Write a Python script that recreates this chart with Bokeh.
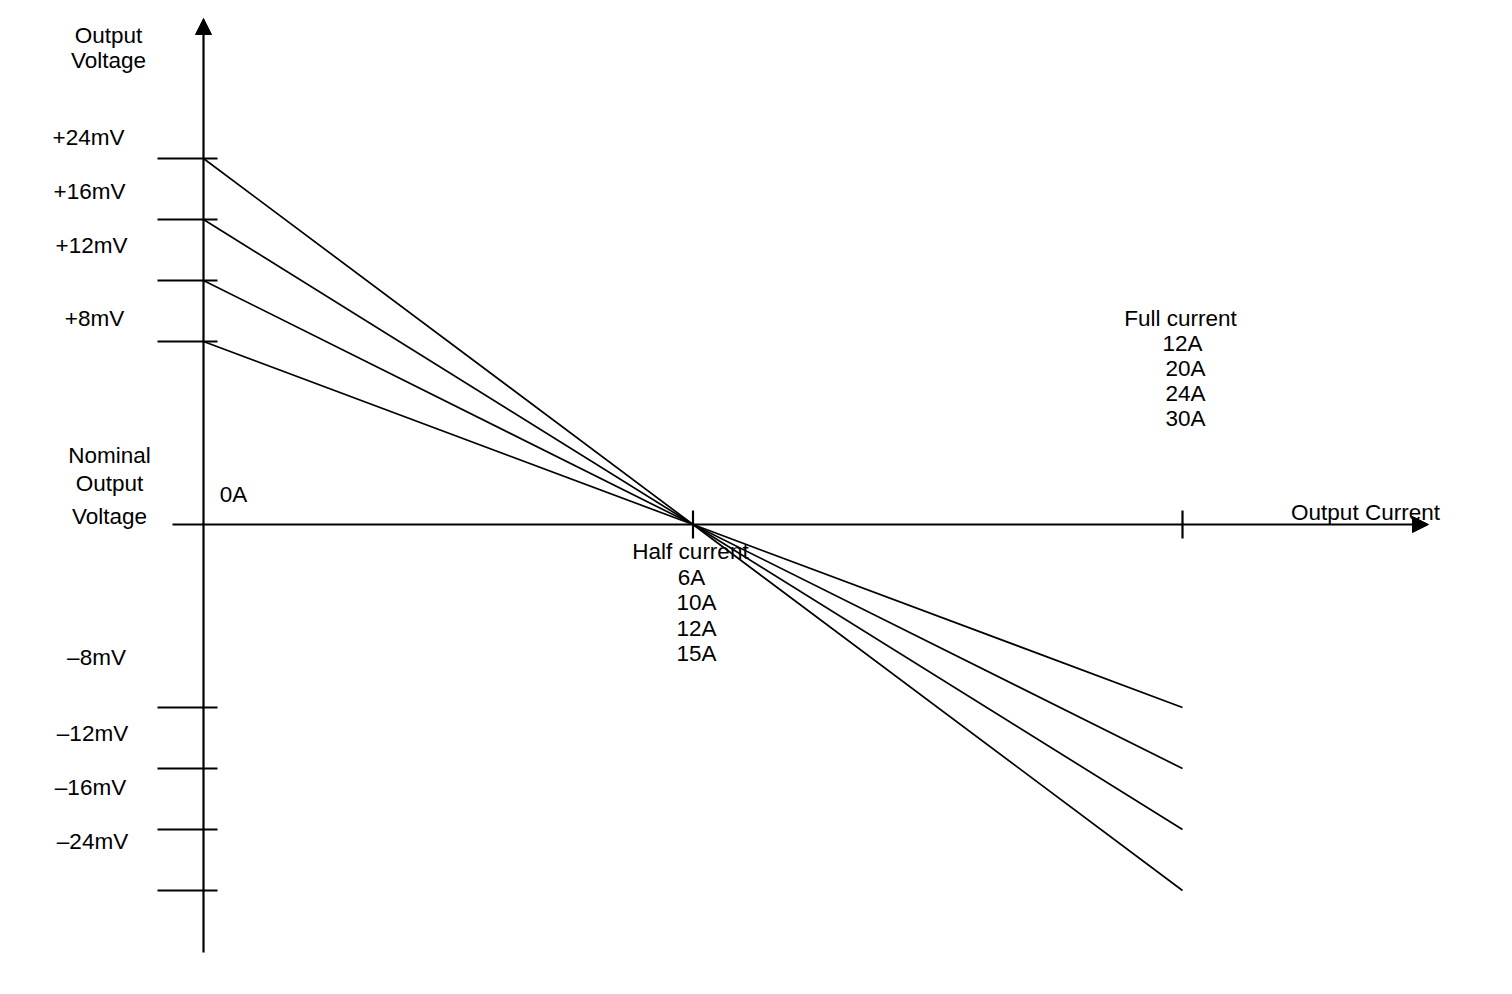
from bokeh.plotting import figure
from bokeh.models import Arrow, NormalHead, Range1d
from bokeh.core.properties import value
from bokeh.embed import file_html
from bokeh.resources import INLINE

# ---- data ----
voltages = [24, 16, 12, 8]            # mV deviation at 0A (+) and full current (-)
tick_levels = [6, 5, 4, 3]            # schematic level of each voltage tick
half_currents = [6, 10, 12, 15]       # A
full_currents = [12, 20, 24, 30]      # A
current_fraction = [0.0, 0.5, 1.0]    # 0A, half current, full current

# ---- layout ----
W, H = 1500, 980
M = 0                  # observed page offset of the figure
OX, OY = 203, 524      # screen px of the origin
SX, SY = 979, 61       # px per unit
x_start = (M - OX) / SX
x_end = (M + W - OX) / SX
y_end = (OY - M) / SY
y_start = (OY - M - H) / SY

def at(px, py):
    return (px - OX) / SX, (OY - py) / SY

FONT = value("Liberation Sans")
FS = "22.5px"

p = figure(width=W, height=H, output_backend="svg", toolbar_location=None,
           x_range=Range1d(x_start, x_end), y_range=Range1d(y_start, y_end),
           min_border=0)
p.axis.visible = False
p.grid.visible = False
p.outline_line_color = None
p.background_fill_color = "white"
p.border_fill_color = "white"

# axes with arrow heads
x0, yb = at(172, 952)
xtip, ytip = at(1428, 18)
p.add_layout(Arrow(end=NormalHead(size=16, fill_color="black", line_color="black"),
                   x_start=0, y_start=yb, x_end=0, y_end=ytip,
                   line_width=2.2, line_color="black"))
p.add_layout(Arrow(end=NormalHead(size=16, fill_color="black", line_color="black"),
                   x_start=x0, y_start=0, x_end=xtip, y_end=0,
                   line_width=2.2, line_color="black"))

# y ticks
tl, tr = at(157, 0)[0], at(217, 0)[0]
for lv in tick_levels:
    for s in (1, -1):
        p.line([tl, tr], [s * lv, s * lv], line_color="black", line_width=2.2)

# x ticks at half and full current
th = (524 - 510) / SY
for f in current_fraction[1:]:
    p.line([f, f], [-th, th], line_color="black", line_width=2.2)

# load-line curves
for lv in tick_levels:
    p.line(current_fraction, [lv, 0, -lv], line_color="black", line_width=1.7)

def label(txt, px, py):
    x, y = at(px, py)
    p.text([x], [y], text=[txt], text_font=FONT, text_font_size=FS,
           text_align="center", text_baseline="middle", text_color="black")

label("Output", 108, 35)
label("Voltage", 108, 60)

pos_y = [137, 191, 245, 318]
pos_x = [88, 89, 91, 94]
for v, px, py in zip(voltages, pos_x, pos_y):
    label(f"+{v}mV", px, py)

neg_y = [841, 787, 733, 657]
neg_x = [92, 90, 92, 96]
for v, px, py in zip(voltages, neg_x, neg_y):
    label(f"\u2013{v}mV", px, py)

label("Nominal", 109, 455)
label("Output", 109, 483)
label("Voltage", 109, 516)
label("0A", 233, 494)

label("Half current", 690, 551)
for i, (c, px) in enumerate(zip(half_currents, [691, 696, 696, 696])):
    label(f"{c}A", px, 577 + i * 25.3)

label("Full current", 1180, 318)
for i, (c, px) in enumerate(zip(full_currents, [1182, 1185, 1185, 1185])):
    label(f"{c}A", px, 343 + i * 25)

label("Output Current", 1365, 512)

open("out.html", "w").write(file_html(p, INLINE))
